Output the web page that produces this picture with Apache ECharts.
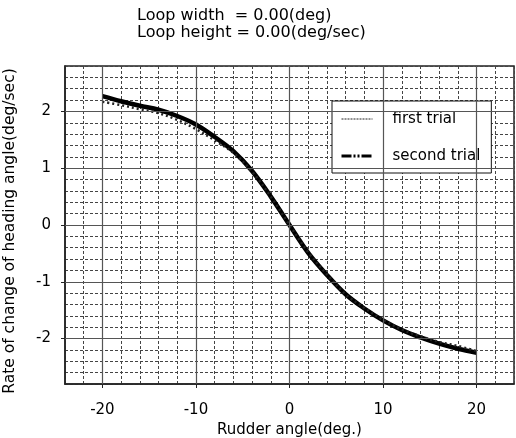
<!DOCTYPE html>
<html>
<head>
<meta charset="utf-8">
<script src="https://cdn.jsdelivr.net/npm/echarts@6/dist/echarts.min.js"></script>
<style>
  html, body { margin: 0; padding: 0; background: #fff; }
  #main { width: 516px; height: 438px; }
</style>
</head>
<body>
<div id="main"></div>
<script>
// rudder angle (deg)
const rudder = [-20, -18, -16, -14, -12, -10, -8, -6, -4, -2, 0, 2, 4, 6, 8, 10, 12, 14, 16, 18, 20]
// rate of change of heading angle (deg/sec)
const firstTrial = [2.17, 2.11, 2.04, 1.97, 1.85, 1.69, 1.49, 1.27, 0.94, 0.50, 0.0, -0.48, -0.87, -1.22, -1.46, -1.67, -1.84, -1.96, -2.06, -2.13, -2.22]
const secondTrial = [2.27, 2.18, 2.10, 2.03, 1.92, 1.77, 1.55, 1.30, 0.95, 0.50, 0.0, -0.49, -0.88, -1.22, -1.47, -1.68, -1.85, -1.98, -2.09, -2.18, -2.25]
const xLabels = [-20, -10, 0, 10, 20]
const yLabels = [-2, -1, 0, 1, 2]

const font = 'DejaVu Sans'
const chart = echarts.init(document.getElementById('main'))

// hidden axes, only for the fine dashed grid
const minorGrid = { color: '#444', type: [3, 2], width: 1 }

const option = {
  animation: false,
  backgroundColor: '#fff',
  title: {
    text: 'Loop width  = 0.00(deg)\nLoop height = 0.00(deg/sec)',
    left: 132,
    top: 2,
    textStyle: { fontFamily: font, fontSize: 16, fontWeight: 'normal', color: '#000', lineHeight: 17 }
  },
  grid: {
    left: 65, right: 2, top: 66, bottom: 54,
    outerBoundsMode: 'none',
    containLabel: false,
    show: true, borderColor: '#222', borderWidth: 1.5, backgroundColor: 'transparent'
  },
  legend: {
    orient: 'vertical',
    left: 332,
    top: 101,
    padding: [9, 11, 8, 8],
    itemGap: 19,
    itemWidth: 31,
    itemHeight: 14,
    backgroundColor: '#fff',
    borderColor: '#111',
    borderWidth: 1,
    textStyle: { fontFamily: font, fontSize: 15, color: '#000', lineHeight: 18, padding: [0, 0, 0, 15] },
    data: [
      {
        name: 'first trial',
        itemStyle: { color: 'transparent', borderWidth: 0 },
        lineStyle: { type: [2, 1], width: 1, color: '#222' }
      },
      {
        name: 'second trial',
        itemStyle: { color: 'transparent', borderWidth: 0 },
        lineStyle: { type: [10, 2, 2, 2, 2, 2], width: 3, color: '#000' }
      }
    ]
  },
  xAxis: [
    {
      type: 'value',
      min: -24,
      max: 24,
      interval: 2,
      name: 'Rudder angle(deg.)',
      nameLocation: 'middle',
      nameGap: 37,
      nameTextStyle: { fontFamily: font, fontSize: 15, color: '#000' },
      axisLine: { show: true, onZero: false, lineStyle: { color: '#222', width: 1.5 } },
      axisTick: { show: true, length: 4, customValues: xLabels, lineStyle: { color: '#222' } },
      axisLabel: { customValues: xLabels, margin: 19, fontFamily: font, fontSize: 15, color: '#000' },
      splitLine: { show: false }
    },
    {
      type: 'value',
      min: -24,
      max: 24,
      interval: 2,
      position: 'top',
      axisLine: { show: false },
      axisTick: { show: false },
      axisLabel: { show: false },
      splitLine: { show: true, lineStyle: minorGrid }
    }
  ],
  yAxis: [
    {
      type: 'value',
      min: -2.8,
      max: 2.8,
      interval: 0.2,
      name: 'Rate of change of heading angle(deg/sec)',
      nameLocation: 'middle',
      nameGap: 47,
      nameTextStyle: { fontFamily: font, fontSize: 15.5, color: '#000', padding: [0, 12, 0, 0] },
      axisLine: { show: true, onZero: false, lineStyle: { color: '#222', width: 1.5 } },
      axisTick: { show: true, length: 4, customValues: yLabels, lineStyle: { color: '#222' } },
      axisLabel: { customValues: yLabels, margin: 14, fontFamily: font, fontSize: 15, color: '#000' },
      splitLine: { show: false }
    },
    {
      type: 'value',
      min: -2.8,
      max: 2.8,
      interval: 0.2,
      position: 'right',
      axisLine: { show: false },
      axisTick: { show: false },
      axisLabel: { show: false },
      splitLine: { show: true, lineStyle: minorGrid }
    }
  ],
  series: [
    {
      name: 'second trial',
      type: 'line',
      data: rudder.map((x, i) => [x, secondTrial[i]]),
      smooth: 0.35,
      symbol: 'none',
      lineStyle: { color: '#000', width: 4.5 },
      z: 3,
      markLine: {
        silent: true,
        symbol: 'none',
        label: { show: false },
        lineStyle: { color: '#555', type: 'solid', width: 1.2 },
        data: xLabels.map(v => ({ xAxis: v })).concat(yLabels.map(v => ({ yAxis: v })))
      }
    },
    {
      name: 'first trial',
      type: 'line',
      data: rudder.map((x, i) => [x, firstTrial[i]]),
      smooth: 0.35,
      symbol: 'none',
      lineStyle: { color: '#222', width: 2.5, type: [2, 3] },
      z: 4
    }
  ]
}
chart.setOption(option)
</script>
</body>
</html>
